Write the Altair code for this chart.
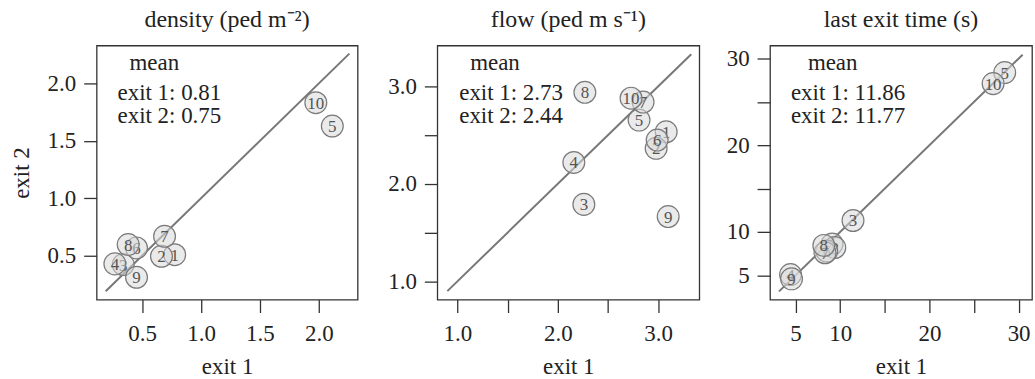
import altair as alt
import pandas as pd

labels = list(range(1, 11))
density_exit1 = [0.776, 0.664, 0.339, 0.268, 2.115, 0.452, 0.690, 0.381, 0.452, 1.975]
density_exit2 = [0.508, 0.494, 0.422, 0.428, 1.629, 0.567, 0.668, 0.596, 0.311, 1.832]
flow_exit1 = [3.08, 2.98, 2.26, 2.16, 2.81, 2.99, 2.85, 2.27, 3.10, 2.73]
flow_exit2 = [2.535, 2.365, 1.79, 2.22, 2.655, 2.45, 2.84, 2.94, 1.665, 2.88]
time_exit1 = [9.10, 9.40, 11.44, 4.44, 28.44, 8.50, 8.30, 8.17, 4.55, 27.14]
time_exit2 = [8.60, 8.20, 11.32, 5.08, 28.38, 7.80, 7.60, 8.45, 4.59, 27.11]

panel_titles = ["density (ped m\u207b\u00b2)", "flow (ped m s\u207b\u00b9)", "last exit time (s)"]
mean_exit1 = ["0.81", "2.73", "11.86"]
mean_exit2 = ["0.75", "2.44", "11.77"]
x_domains = [[0.113, 2.33], [0.80, 3.41], [2.14, 31.5]]
y_domains = [[0.117, 2.33], [0.813, 3.42], [2.2, 31.5]]
tick_values = [[0.5, 1.0, 1.5, 2.0], [1.0, 1.5, 2.0, 2.5, 3.0], [5, 10, 15, 20, 25, 30]]
label_exprs = [
    "format(datum.value, '.1f')",
    "datum.value % 1 === 0 ? format(datum.value, '.1f') : ''",
    "(datum.value === 15 || datum.value === 25) ? '' : format(datum.value, 'd')",
]
diag_ends = [[0.19, 2.26], [0.90, 3.33], [3.15, 30.45]]

FONT = "Liberation Serif"
TXT = "#222222"
y_extents = [50, 68, 58.7]
mean_x = [33, 33, 38]
exit_x = [21, 22, 21]

series = [(density_exit1, density_exit2), (flow_exit1, flow_exit2), (time_exit1, time_exit2)]


def panel(i):
    e1, e2 = series[i]
    df = pd.DataFrame({"exit1": e1, "exit2": e2, "label": labels})
    line_df = pd.DataFrame({"exit1": diag_ends[i], "exit2": diag_ends[i]})

    common = dict(
        labelFont=FONT, labelFontSize=23, labelColor=TXT,
        titleFont=FONT, titleFontSize=23, titleFontWeight="normal", titleColor=TXT,
        tickColor="#333333", tickWidth=1.3, domain=False, grid=False,
        values=tick_values[i], labelExpr=label_exprs[i], tickSize=13,
    )
    xaxis = alt.Axis(
        title="exit 1", labelPadding=10, minExtent=46, maxExtent=46, titlePadding=10.5,
        **common,
    )
    yargs = dict(labelPadding=8, minExtent=y_extents[i], maxExtent=y_extents[i], **common)
    if i == 0:
        yaxis = alt.Axis(title="exit 2", titleAngle=270, titleBaseline="bottom",
                         titlePadding=12.9, **yargs)
    else:
        yaxis = alt.Axis(title=None, **yargs)

    xs = alt.X("exit1:Q", scale=alt.Scale(domain=x_domains[i], nice=False, zero=False), axis=xaxis)
    ys = alt.Y("exit2:Q", scale=alt.Scale(domain=y_domains[i], nice=False, zero=False), axis=yaxis)

    layers = [alt.Chart(line_df).mark_line(color="#777777", strokeWidth=2).encode(x=xs, y=ys)]
    base = alt.Chart(df)
    # draw each point's circle then its number, in order, so later circles veil earlier numbers
    for k in labels:
        sel = base.transform_filter(alt.datum.label == k)
        layers.append(sel.mark_circle(
            size=480, fill="#d9d9d9", fillOpacity=0.55, stroke="#7a7a7a", strokeWidth=1.2, opacity=1
        ).encode(x=xs, y=ys))
        layers.append(sel.mark_text(
            font=FONT, fontSize=17, color="#555555", align="center", baseline="middle", dy=1
        ).encode(x=xs, y=ys, text="label:N"))

    txt = dict(font=FONT, fontSize=23, color=TXT, align="left", baseline="alphabetic")
    layers.append(alt.Chart(pd.DataFrame({"t": ["mean"]})).mark_text(**txt).encode(
        x=alt.value(mean_x[i]), y=alt.value(24.5), text="t:N"))
    layers.append(alt.Chart(pd.DataFrame({"t": ["exit 1: " + mean_exit1[i]]})).mark_text(**txt).encode(
        x=alt.value(exit_x[i]), y=alt.value(55), text="t:N"))
    layers.append(alt.Chart(pd.DataFrame({"t": ["exit 2: " + mean_exit2[i]]})).mark_text(**txt).encode(
        x=alt.value(exit_x[i]), y=alt.value(77.7), text="t:N"))

    return alt.layer(*layers).properties(
        width=262 if i == 0 else 263,
        height=255,
        title=alt.TitleParams(
            text=panel_titles[i], fontSize=24, fontWeight="normal", font=FONT, color=TXT,
            frame="group", anchor="middle", baseline="alphabetic", offset=-5,
        ),
    )


chart = alt.hconcat(panel(0), panel(1), panel(2), spacing=10).properties(
    padding={"left": 10, "top": 6, "right": 2, "bottom": 0},
    background="white",
).configure_view(
    stroke="#333333", strokeWidth=1.3
)

chart.save("out.html", embed_options={"renderer": "svg", "actions": False})
